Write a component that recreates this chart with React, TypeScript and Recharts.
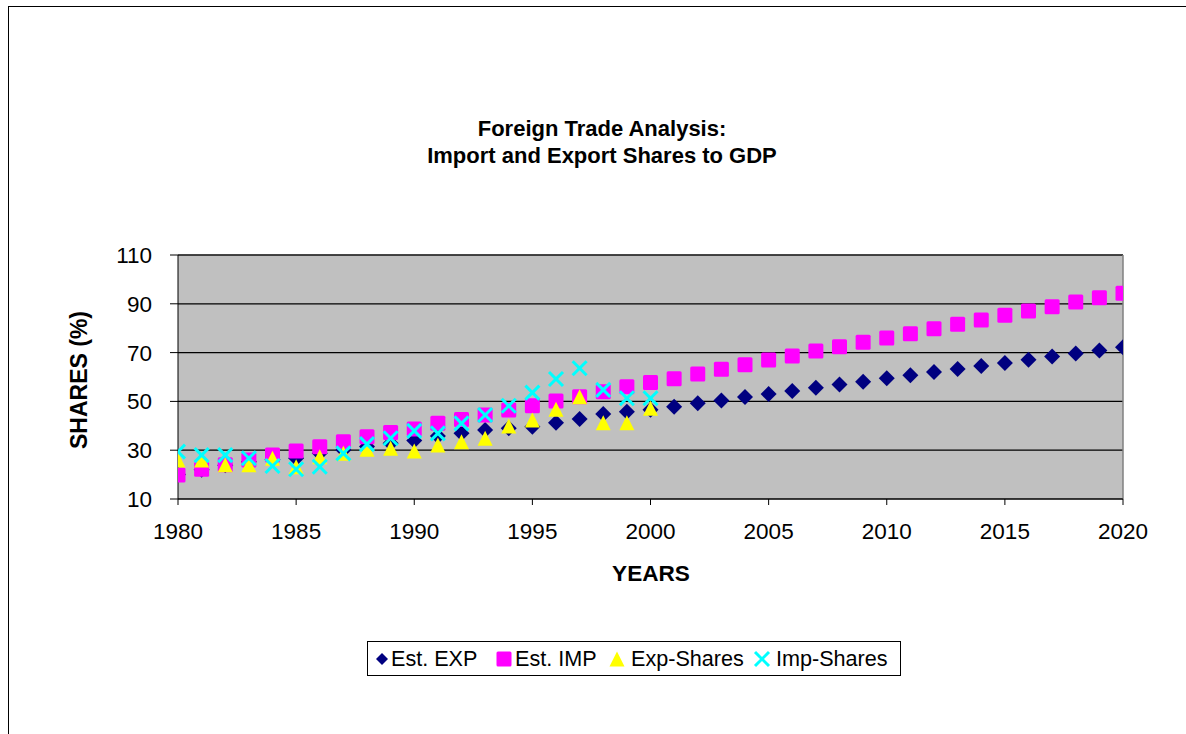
import React from 'react';
import { ScatterChart, Scatter, XAxis, YAxis, CartesianGrid, ReferenceLine } from 'recharts';

const estYears = [1980,1981,1982,1983,1984,1985,1986,1987,1988,1989,1990,1991,1992,1993,1994,1995,1996,1997,1998,1999,2000,2001,2002,2003,2004,2005,2006,2007,2008,2009,2010,2011,2012,2013,2014,2015,2016,2017,2018,2019,2020];
const estExp = [20.0,22.0,23.8,25.3,26.2,26.7,28.7,30.1,31.5,32.8,34.0,35.8,36.9,38.3,39.0,39.6,41.3,42.8,44.8,45.8,46.6,47.8,49.2,50.4,51.8,53.0,54.3,55.6,56.9,58.1,59.5,60.7,62.0,63.3,64.5,65.7,67.1,68.4,69.6,70.9,72.2];
const estImp = [19.8,22.2,24.0,26.0,28.0,29.7,31.4,33.5,35.5,37.3,38.7,41.0,42.6,44.4,46.5,48.2,50.2,51.9,54.0,56.0,57.7,59.3,61.2,63.2,65.0,67.0,68.6,70.7,72.4,74.2,76.0,77.7,79.8,81.6,83.4,85.3,87.0,88.8,90.7,92.5,94.3];
const shareYears = [1980,1981,1982,1983,1984,1985,1986,1987,1988,1989,1990,1991,1992,1993,1994,1995,1996,1997,1998,1999,2000];
const expShares = [26.0,26.0,24.0,24.0,26.7,23.2,27.3,28.7,30.4,30.8,29.7,32.1,33.5,34.9,39.9,42.4,46.8,51.9,41.3,41.3,47.2];
const impShares = [29.4,28.0,28.0,26.7,23.5,22.2,23.2,28.7,32.5,34.9,37.9,36.9,41.0,44.4,48.2,53.6,59.2,63.6,54.7,51.3,51.3];
const xTicks = [1980,1985,1990,1995,2000,2005,2010,2015,2020];
const yTicks = [10,30,50,70,90,110];

const font = '"Liberation Sans", Arial, sans-serif';

const Diamond = (p: any) => {
  const { cx, cy, r = 8 } = p;
  if (cx == null || cy == null) return null;
  return <path d={`M${cx},${cy - r}L${cx + r},${cy}L${cx},${cy + r}L${cx - r},${cy}Z`} fill="#000080" />;
};
const Square = (p: any) => {
  const { cx, cy } = p;
  if (cx == null || cy == null) return null;
  return <rect x={cx - 7.5} y={cy - 7.5} width={15} height={15} rx={1.5} fill="#FF00FF" />;
};
const Tri = (p: any) => {
  const { cx, cy } = p;
  if (cx == null || cy == null) return null;
  return <path d={`M${cx},${cy - 7.5}L${cx + 7.5},${cy + 7.5}L${cx - 7.5},${cy + 7.5}Z`} fill="#FFFF00" />;
};
const Cross = (p: any) => {
  const { cx, cy } = p;
  if (cx == null || cy == null) return null;
  const r = 7;
  return (
    <g stroke="#00FFFF" strokeWidth={3}>
      <line x1={cx - r} y1={cy - r} x2={cx + r} y2={cy + r} />
      <line x1={cx - r} y1={cy + r} x2={cx + r} y2={cy - r} />
    </g>
  );
};

const toPts = (xs: number[], ys: number[]) => xs.map((x, i) => ({ x, y: ys[i] }));

const LegendItem = ({ marker, label, mx, tx }: { marker: React.ReactNode; label: string; mx: number; tx: number }) => (
  <>
    <svg width={18} height={18} style={{ position: 'absolute', left: mx - 9, top: 8 }}>{marker}</svg>
    <span style={{ position: 'absolute', left: tx, top: 0, lineHeight: '33px' }}>{label}</span>
  </>
);

export default function App() {
  return (
    <div style={{ position: 'fixed', left: 0, top: 0, width: 1186, height: 734, background: '#fff', overflow: 'hidden', fontFamily: font }}>
      <div style={{ position: 'absolute', left: 8, top: 6, width: 1300, height: 900, border: '1px solid #000', boxSizing: 'border-box' }} />
      <div style={{ position: 'absolute', left: 0, top: 0 }}>
        <ScatterChart width={1186} height={734} margin={{ top: 255, right: 63, bottom: 205, left: 108 }}>
          <CartesianGrid fill="#C0C0C0" stroke="#000" strokeWidth={1.2} vertical={false} fillOpacity={1} />
          <XAxis type="number" dataKey="x" domain={[1980, 2020]} ticks={xTicks} height={30} tickSize={6}
            tickMargin={18} stroke="#000" tick={{ fill: '#000', fontSize: 22.5, fontFamily: font }} allowDataOverflow />
          <YAxis type="number" dataKey="y" domain={[10, 110]} ticks={yTicks} width={70} tickSize={8}
            tickMargin={18} stroke="#000" tick={{ fill: '#000', fontSize: 22.5, fontFamily: font }} allowDataOverflow />
          <ReferenceLine y={110} stroke="#333" strokeWidth={1.5} />
          <ReferenceLine x={2020} stroke="#808080" strokeWidth={1.5} />
          <Scatter data={toPts(estYears, estExp)} shape={Diamond} isAnimationActive={false} />
          <Scatter data={toPts(estYears, estImp)} shape={Square} isAnimationActive={false} />
          <Scatter data={toPts(shareYears, expShares)} shape={Tri} isAnimationActive={false} />
          <Scatter data={toPts(shareYears, impShares)} shape={Cross} isAnimationActive={false} />
        </ScatterChart>
      </div>
      <div style={{ position: 'absolute', left: 302, width: 600, top: 115, textAlign: 'center', fontWeight: 'bold', fontSize: 22, lineHeight: '27px' }}>
        <div>Foreign Trade Analysis:</div>
        <div>Import and Export Shares to GDP</div>
      </div>
      <div style={{ position: 'absolute', left: 79, top: 380, transform: 'translate(-50%,-50%) rotate(-90deg)', fontWeight: 'bold', fontSize: 23, whiteSpace: 'nowrap', lineHeight: '26px' }}>SHARES (%)</div>
      <div style={{ position: 'absolute', left: 551, width: 200, top: 561, textAlign: 'center', fontWeight: 'bold', fontSize: 22.6, lineHeight: '26px' }}>YEARS</div>
      <div style={{ position: 'absolute', left: 367, top: 641, width: 534, height: 35, border: '1px solid #000', boxSizing: 'border-box', fontSize: 21.6, whiteSpace: 'nowrap' }}>
        <LegendItem marker={<Diamond cx={9} cy={9} r={6} />} label="Est. EXP" mx={14} tx={23} />
        <LegendItem marker={<Square cx={9} cy={9} />} label="Est. IMP" mx={136} tx={147} />
        <LegendItem marker={<Tri cx={9} cy={9} />} label="Exp-Shares" mx={249} tx={263} />
        <LegendItem marker={<Cross cx={9} cy={9} />} label="Imp-Shares" mx={394} tx={408} />
      </div>
    </div>
  );
}
